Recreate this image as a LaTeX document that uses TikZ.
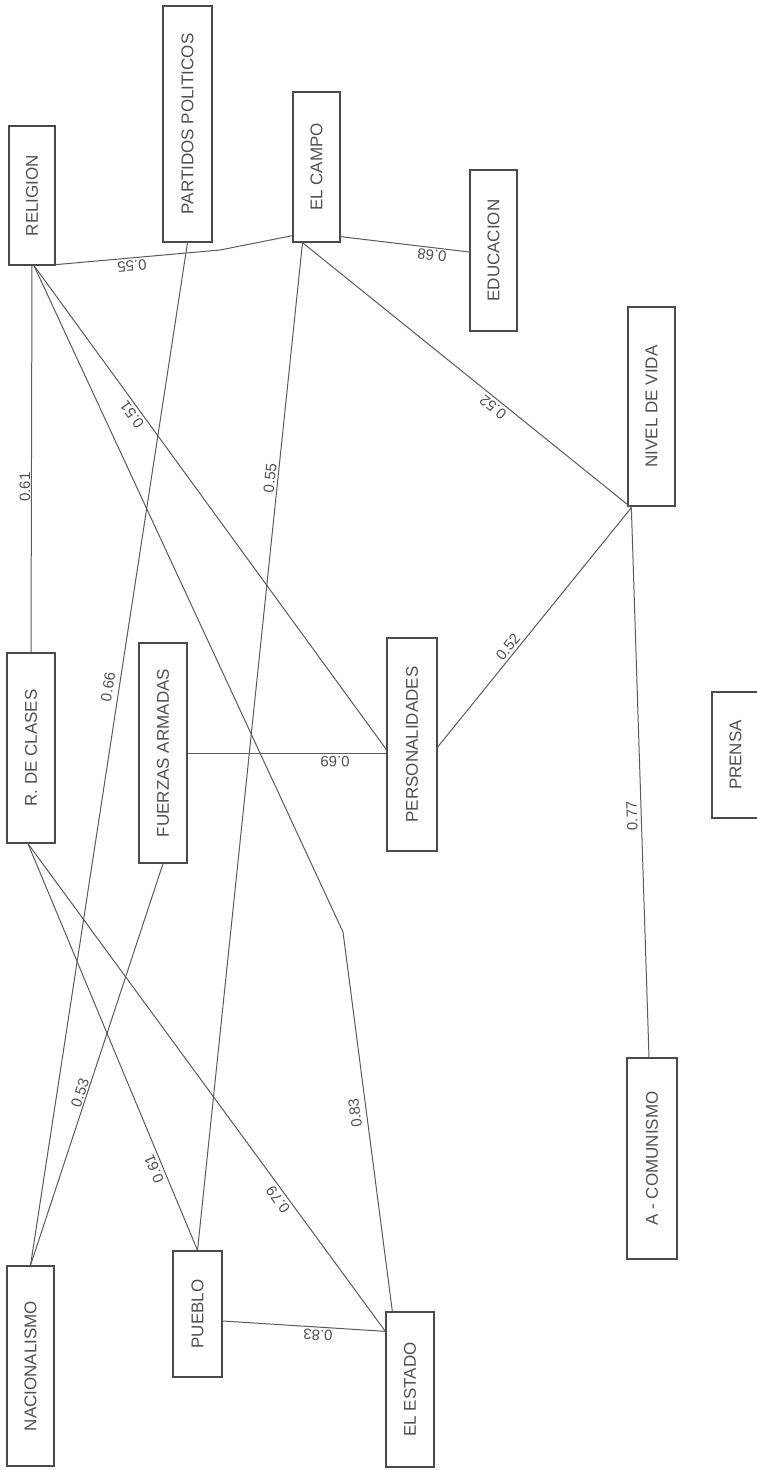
\documentclass[tikz,border=0pt]{standalone}
\usepackage{fontspec}
\setmainfont{Liberation Sans}
\definecolor{boxc}{HTML}{4A4A4A}
\definecolor{linec}{HTML}{5A5A5A}
\definecolor{txtc}{HTML}{505050}
\begin{document}
\begin{tikzpicture}[x=1pt,y=-1pt,
  box/.style={draw=boxc, line width=1.3pt, inner sep=0pt, font=\fontsize{17}{17}\selectfont, text=txtc},
  link/.style={draw=linec, line width=1pt},
  lab/.style={font=\fontsize{15}{15}\selectfont, text=txtc, inner sep=1pt}]
\useasboundingbox (0,0) rectangle (756,1470);
% boxes
\node[box, minimum width=46pt, minimum height=139pt] (rel) at (32,195.5) {\rotatebox{90}{RELIGION}};
\node[box, minimum width=49pt, minimum height=236pt] (pp) at (187.5,124) {\rotatebox{90}{PARTIDOS POLITICOS}};
\node[box, minimum width=47pt, minimum height=150pt] (campo) at (316.5,167) {\rotatebox{90}{EL CAMPO}};
\node[box, minimum width=47pt, minimum height=161pt] (educ) at (493.5,250.5) {\rotatebox{90}{EDUCACION}};
\node[box, minimum width=47pt, minimum height=199pt] (nivel) at (651.5,406.5) {\rotatebox{90}{NIVEL DE VIDA}};
\node[box, minimum width=48pt, minimum height=190pt] (rdc) at (31,748) {\rotatebox{90}{R. DE CLASES}};
\node[box, minimum width=48pt, minimum height=220pt] (fa) at (163,753) {\rotatebox{90}{FUERZAS ARMADAS}};
\node[box, minimum width=50pt, minimum height=213pt] (pers) at (412,744.5) {\rotatebox{90}{PERSONALIDADES}};
\node[box, minimum width=47pt, minimum height=126pt] (prensa) at (735.5,755) {\rotatebox{90}{PRENSA}};
\node[box, minimum width=50pt, minimum height=201pt] (acom) at (652,1158.5) {\rotatebox{90}{A - COMUNISMO}};
\node[box, minimum width=47pt, minimum height=200pt] (nac) at (30.5,1366) {\rotatebox{90}{NACIONALISMO}};
\node[box, minimum width=49pt, minimum height=126pt] (pueblo) at (197.5,1314) {\rotatebox{90}{PUEBLO}};
\node[box, minimum width=48pt, minimum height=155pt] (estado) at (410,1389.5) {\rotatebox{90}{EL ESTADO}};
% bend points
\coordinate (k1) at (220,250);
\coordinate (k2) at (343,932);
% connectors
\draw[link] ([yshift=1pt]rel.south east) -- (k1) -- ([yshift=7pt]campo.south west);
\draw[link] ([yshift=6pt]campo.south east) -- ([yshift=-1.5pt]educ.west);
\draw[link] ([xshift=-14pt]campo.south) -- ([xshift=4pt,yshift=-1pt]nivel.south west);
\draw[link] ([xshift=-14pt]campo.south) -- (pueblo.north);
\draw[link] (rel.south) -- (rdc.north);
\draw[link] ([xshift=2pt]rel.south) -- ([yshift=-5pt]pers.west);
\draw[link] ([xshift=2pt]rel.south) -- (k2) -- ([xshift=7pt]estado.north west);
\draw[link] (pp.south) -- (nac.north);
\draw[link] (fa.east) -- (fa.east -| pers.west);
\draw[link] (fa.south) -- (nac.north);
\draw[link] ([xshift=-3pt]rdc.south) -- (pueblo.north);
\draw[link] ([xshift=-3pt]rdc.south) -- ([yshift=-20pt]estado.north west);
\draw[link] ([yshift=-7pt]pueblo.east) -- ([yshift=-20pt]estado.north west);
\draw[link] ([yshift=-2.5pt]pers.east) -- ([xshift=4pt,yshift=-1pt]nivel.south west);
\draw[link] ([xshift=4pt,yshift=-1pt]nivel.south west) -- ([xshift=-3pt]acom.north);
% labels
\node[lab, rotate=184.8] (l1) at (132,266) {0.55};
\node[lab, rotate=173] (l2) at (432,255) {0.68};
\node[lab, rotate=141.2] (l3) at (493,407) {0.52};
\node[lab, rotate=90] (l4) at (25,487) {0.61};
\node[lab, rotate=126.2] (l5) at (132,415) {0.51};
\node[lab, rotate=84] (l6) at (270,478) {0.55};
\node[lab, rotate=81.4] (l7) at (108,687) {0.66};
\node[lab, rotate=180] (l8) at (335,762) {0.69};
\node[lab, rotate=50.8] (l9) at (508,647) {0.52};
\node[lab, rotate=91.7] (l10) at (632,816) {0.77};
\node[lab, rotate=72] (l11) at (80,1093) {0.53};
\node[lab, rotate=112.5] (l12) at (154,1169) {0.61};
\node[lab, rotate=126.1] (l13) at (278,1200) {0.79};
\node[lab, rotate=97.5] (l14) at (355,1113) {0.83};
\node[lab, rotate=176.1] (l15) at (318,1335) {0.83};
\end{tikzpicture}
\end{document}
